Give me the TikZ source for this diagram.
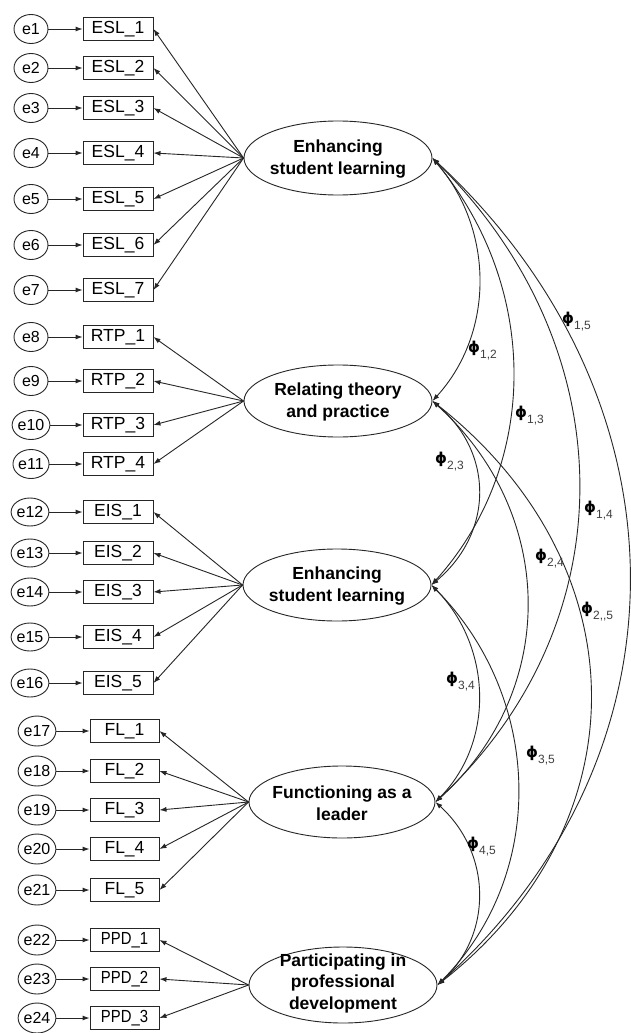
\documentclass[tikz,border=0pt]{standalone}
\usepackage{fontspec}
\setmainfont{Liberation Sans}
\newfontfamily\phifont{DejaVu Sans}
\usetikzlibrary{arrows.meta,shapes.geometric}
\newcommand{\phl}[1]{{\phifont\fontsize{15}{15}\selectfont\bfseries ϕ}\raisebox{-6pt}{\fontsize{12}{12}\selectfont\color{black!75}#1}}
\begin{document}
\begin{tikzpicture}[x=1pt,y=-1pt,
  ln/.style={line width=0.9pt,draw=black!85},
  errA/.style={ln,ellipse,minimum width=34pt,minimum height=29pt,inner sep=0pt,font=\fontsize{16}{16}\selectfont},
  errB/.style={ln,ellipse,minimum width=32pt,minimum height=28pt,inner sep=0pt,font=\fontsize{16}{16}\selectfont},
  errC/.style={ln,ellipse,minimum width=33pt,minimum height=30pt,inner sep=0pt,font=\fontsize{16}{16}\selectfont},
  obsA/.style={ln,rectangle,minimum width=70pt,minimum height=23pt,inner sep=0pt,font=\fontsize{17.5}{17.5}\selectfont},
  obsB/.style={obsA,minimum width=69pt},
  lat/.style={ln,ellipse,inner sep=0pt},
  lattext/.style={align=center,inner sep=0pt,font=\bfseries\fontsize{17.5}{21.5}\selectfont},
  tip/.style={ln,-{Latex[length=7pt,width=5pt]}},
  cov/.style={ln,{Latex[length=7pt,width=5pt]}-{Latex[length=7pt,width=5pt]}},
  phlab/.style={anchor=base west,inner sep=0pt}
]
\fill[white] (0,0) rectangle (631,1033);
\useasboundingbox (0,0) rectangle (631,1033);

% latent variables
\node[lat,minimum width=188pt,minimum height=74pt] (L1) at (338,158) {};
\node[lattext] (L1t) at (338,159) {Enhancing\\student learning};
\node[lat,minimum width=188pt,minimum height=72pt] (L2) at (338,401) {};
\node[lattext] (L2t) at (338,402) {Relating theory\\and practice};
\node[lat,minimum width=188pt,minimum height=72pt] (L3) at (337,585) {};
\node[lattext] (L3t) at (337,586) {Enhancing\\student learning};
\node[lat,minimum width=186pt,minimum height=72pt] (L4) at (342,802) {};
\node[lattext] (L4t) at (342,803) {Functioning as a\\leader};
\node[lat,minimum width=188pt,minimum height=76pt] (L5) at (343,985) {};
\node[lattext] (L5t) at (343,983) {Participating in\\professional\\development};

% ESL
\foreach \i/\y in {1/29,2/68,3/108,4/153,5/199,6/245,7/290}{
  \node[errA] (e\i) at (31,\y) {e\i};
  \node[obsA] (o\i) at (118,\y) {ESL\_\i};
  \draw[tip] (e\i) -- (o\i);
  \draw[tip] (L1.west) -- (o\i.east);
}
% RTP
\foreach \k/\i/\y in {1/8/337,2/9/381,3/10/425,4/11/464}{
  \node[errA] (e\i) at (31,\y) {e\i};
  \node[obsA] (o\i) at (118,\y) {RTP\_\k};
  \draw[tip] (e\i) -- (o\i);
  \draw[tip] (L2.west) -- (o\i.east);
}
% EIS
\foreach \k/\i/\y in {1/12/512,2/13/553,3/14/592,4/15/637,5/16/683}{
  \node[errB] (e\i) at (30,\y) {e\i};
  \node[obsA] (o\i) at (118,\y) {EIS\_\k};
  \draw[tip] (e\i) -- (o\i);
  \draw[tip] (L3.west) -- (o\i.east);
}
% FL
\foreach \k/\i/\y in {1/17/731,2/18/771,3/19/810,4/20/849,5/21/890}{
  \node[errC] (e\i) at (37,\y) {e\i};
  \node[obsB] (o\i) at (124.5,\y) {FL\_\k};
  \draw[tip] (e\i) -- (o\i);
  \draw[tip] (L4.west) -- (o\i.east);
}
% PPD
\foreach \k/\i/\y in {1/22/940,2/23/979,3/24/1018}{
  \node[errC] (e\i) at (37,\y) {e\i};
  \node[obsB] (o\i) at (124.5,\y) {\scalebox{0.85}[1]{PPD\_\k}};
  \draw[tip] (e\i) -- (o\i);
  \draw[tip] (L5.west) -- (o\i.east);
}

% covariances
\draw[cov] (L1.east) .. controls +(62,72) and +(62,-68) .. (L2.east);
\draw[cov] (L1.east) .. controls +(108,130) and +(108,-120) .. (L3.east);
\draw[cov] (L1.east) .. controls +(193,190) and +(193,-180) .. (L4.east);
\draw[cov] (L1.east) .. controls +(259,240) and +(259,-232) .. (L5.east);
\draw[cov] (L2.east) .. controls +(62,52) and +(62,-52) .. (L3.east);
\draw[cov] (L2.east) .. controls +(124,112) and +(124,-112) .. (L4.east);
\draw[cov] (L2.east) .. controls +(207,163) and +(207,-163) .. (L5.east);
\draw[cov] (L3.east) .. controls +(60,61) and +(60,-61) .. (L4.east);
\draw[cov] (L3.east) .. controls +(111,112) and +(111,-112) .. (L5.east);
\draw[cov] (L4.east) .. controls +(56,51) and +(56,-51) .. (L5.east);

% labels
\node[phlab] (p12) at (468,352) {\phl{1,2}};
\node[phlab] (p13) at (515,417) {\phl{1,3}};
\node[phlab] (p14) at (584,512) {\phl{1,4}};
\node[phlab] (p15) at (562,323) {\phl{1,5}};
\node[phlab] (p23) at (435,463) {\phl{2,3}};
\node[phlab] (p24) at (535,560) {\phl{2,4}};
\node[phlab] (p25) at (581,613) {\phl{2,\kern0pt,5}};
\node[phlab] (p34) at (446,683) {\phl{3,4}};
\node[phlab] (p35) at (526,757) {\phl{3,5}};
\node[phlab] (p45) at (467,848) {\phl{4,5}};
\end{tikzpicture}
\end{document}
